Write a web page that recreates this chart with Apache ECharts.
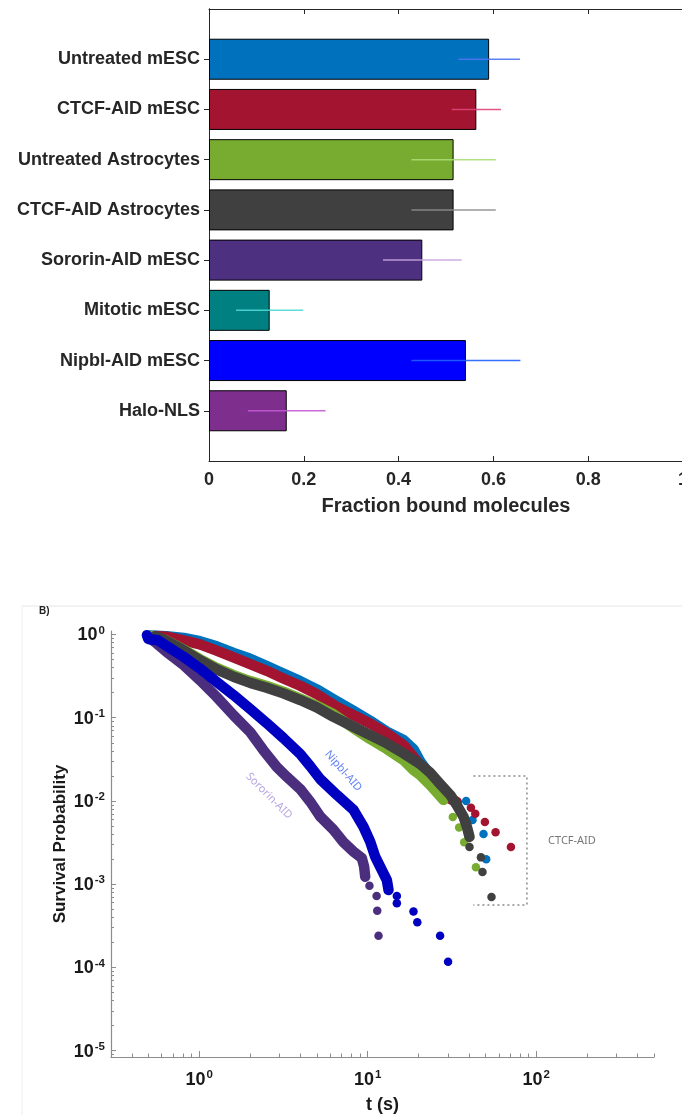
<!DOCTYPE html>
<html>
<head>
<meta charset="utf-8">
<script src="https://cdn.jsdelivr.net/npm/echarts@6/dist/echarts.min.js"></script>
<style>
  html, body { margin: 0; padding: 0; background: #ffffff; }
  #chart { width: 682px; height: 1115px; }
</style>
</head>
<body>
<div id="chart"></div>
<script>
// ---------- Panel A: fraction of bound molecules ----------
const barCategories = [
  'Untreated mESC', 'CTCF-AID mESC', 'Untreated Astrocytes', 'CTCF-AID Astrocytes',
  'Sororin-AID mESC', 'Mitotic mESC', 'Nipbl-AID mESC', 'Halo-NLS'
];
const boundFraction = [0.591, 0.564, 0.516, 0.516, 0.450, 0.128, 0.542, 0.164];
const boundError    = [0.065, 0.052, 0.089, 0.089, 0.083, 0.071, 0.115, 0.082];
const fractionTicks = [0, 0.2, 0.4, 0.6, 0.8, 1];

// ---------- Panel B: survival curves, [t (s), survival probability] ----------
const untreatedEscTrace = [
  [0.51, 0.97], [0.64, 0.95], [0.81, 0.91], [1.01, 0.83], [1.27, 0.72], [1.60, 0.60],
  [2.01, 0.51], [2.52, 0.416], [3.16, 0.340], [3.98, 0.275], [4.99, 0.219], [6.27, 0.167],
  [8.24, 0.121], [10.35, 0.092], [13.0, 0.068], [16.3, 0.054], [18.7, 0.042], [20.5, 0.030],
  [23.5, 0.0205], [26.9, 0.0143], [30.9, 0.0111]
];
const untreatedEscTail = [[38.4, 0.0100], [41.9, 0.0059], [48.7, 0.0040], [50.5, 0.0020]];

const ctcfEscTrace = [
  [0.55, 0.96], [0.64, 0.94], [0.81, 0.85], [1.01, 0.76], [1.27, 0.64], [1.60, 0.53],
  [2.01, 0.44], [2.52, 0.366], [3.16, 0.296], [3.98, 0.242], [4.99, 0.192], [6.57, 0.135],
  [8.24, 0.107], [10.35, 0.085], [13.0, 0.065], [16.3, 0.047], [20.5, 0.027], [23.5, 0.0187],
  [25.8, 0.0135], [29.5, 0.0111], [33.8, 0.0097]
];
const ctcfEscTail = [[41.0, 0.0083], [43.5, 0.0070], [49.6, 0.0056], [57.4, 0.0042], [70.8, 0.0028]];

const astroTrace = [
  [0.51, 0.967], [0.64, 0.843], [0.81, 0.657], [1.01, 0.505], [1.27, 0.397], [1.60, 0.325],
  [2.01, 0.275], [2.52, 0.240], [3.16, 0.205], [3.98, 0.170], [4.99, 0.139], [6.27, 0.110],
  [8.24, 0.075], [10.35, 0.0553], [13.0, 0.042], [16.3, 0.031], [18.7, 0.0235], [20.5, 0.0205],
  [23.5, 0.0155], [28.2, 0.0103]
];
const astroTail = [[32.0, 0.0064], [34.9, 0.0048], [37.4, 0.0032], [43.9, 0.0016]];

const ctcfAstroTrace = [
  [0.55, 0.954], [0.64, 0.838], [0.81, 0.648], [1.01, 0.491], [1.27, 0.380], [1.60, 0.310],
  [2.01, 0.262], [2.52, 0.229], [3.16, 0.196], [3.98, 0.163], [4.99, 0.133], [6.27, 0.1025],
  [8.24, 0.0778], [10.35, 0.0618], [13.0, 0.0491], [16.3, 0.0373], [20.5, 0.0277], [23.5, 0.0218],
  [26.9, 0.0160], [30.9, 0.0118], [33.8, 0.0089], [37.0, 0.0065], [38.8, 0.0049], [40.2, 0.0037]
];
const ctcfAstroTail = [[40.2, 0.0028], [47.0, 0.0021], [48.0, 0.0014], [54.3, 0.0007]];

const sororinTrace = [
  [0.51, 0.90], [0.56, 0.78], [0.64, 0.618], [0.81, 0.428], [1.01, 0.283], [1.27, 0.178],
  [1.60, 0.107], [2.01, 0.067], [2.40, 0.041], [2.89, 0.0255], [3.32, 0.0194], [3.98, 0.0139],
  [4.56, 0.0098], [5.23, 0.0065], [6.27, 0.0045], [7.18, 0.0032], [8.24, 0.00246], [9.24, 0.00205],
  [9.53, 0.00162], [9.67, 0.00123]
];
const sororinTail = [[10.25, 0.00096], [11.3, 0.00072], [11.4, 0.00048], [11.6, 0.00024]];

const nipblTrace = [
  [0.49, 0.98], [0.50, 0.88], [0.57, 0.85], [0.64, 0.73], [0.81, 0.538], [1.01, 0.391],
  [1.27, 0.270], [1.60, 0.187], [2.01, 0.127], [2.52, 0.086], [3.16, 0.057], [3.98, 0.0366],
  [4.56, 0.0262], [5.23, 0.0183], [6.57, 0.0118], [8.24, 0.0078], [9.44, 0.0049], [10.35, 0.00324],
  [11.08, 0.00214], [12.14, 0.00148], [13.0, 0.00112], [13.3, 0.00085]
];
const nipblTail = [[14.9, 0.00072], [14.9, 0.00059], [18.7, 0.00047], [19.7, 0.00035], [26.9, 0.00024], [30.0, 0.000117]];

const survivalDecades = [1e-5, 1e-4, 1e-3, 1e-2, 1e-1, 1];
const timeDecades = [1, 10, 100];

// ---------- styling ----------
const FONT = '"Liberation Sans", Arial, Helvetica, sans-serif';
const INK = '#262626';
const barColors = ['#0072bd', '#a2142f', '#77ac30', '#404040', '#4d307f', '#008080', '#0000ff', '#7e2f8e'];
const errColors = ['#4d74f5', '#e0457a', '#a8de78', '#8c8c8c', '#c9a3df', '#4fd6d6', '#1f5fff', '#c45ad6'];

// category axis padded with an empty slot at each end so the bars sit on ticks 1..8
const paddedCats = [''].concat(barCategories, ['']);
const innerTick = (idx) => idx > 0 && idx < paddedCats.length - 1;

const barData = ['-'].concat(
  boundFraction.map((v, i) => ({ value: v, itemStyle: { color: barColors[i] } })),
  ['-']
);
const errData = boundFraction.map((v, i) => [v - boundError[i], i + 1, v + boundError[i]]);

// minor tick positions for the log axes
function minorTicks(lo, hi, nFrom, nTo) {
  const out = [];
  for (let n = nFrom; n <= nTo; n++) {
    for (let k = 2; k <= 9; k++) {
      const v = k * Math.pow(10, n);
      if (v >= lo && v <= hi) out.push(v);
    }
  }
  return out;
}
const T_MIN = 0.3, T_MAX = 500, S_MIN = 8.4e-6, S_MAX = 1.1;
const timeMinor = minorTicks(T_MIN, T_MAX, -1, 2);
const survMinor = minorTicks(S_MIN, S_MAX, -6, 0);

const powLabel = (v) => `{b|10}{s|${Math.round(Math.log10(v))}}`;
const powRich = {
  b: { fontSize: 18, fontWeight: 'bold', color: '#1a1a1a', fontFamily: FONT, verticalAlign: 'bottom' },
  s: { fontSize: 11.5, fontWeight: 'bold', color: '#1a1a1a', fontFamily: FONT, verticalAlign: 'top', padding: [0, 0, 8, 1] }
};
const LOG_GREY = '#8c8c8c';

function traceSeries(name, data, color) {
  return {
    name, type: 'line', xAxisIndex: 2, yAxisIndex: 2, data,
    showSymbol: false, symbol: 'none', smooth: false, silent: true,
    lineStyle: { color, width: 10.5, cap: 'round', join: 'round' }
  };
}
function tailSeries(name, data, color) {
  return {
    name, type: 'scatter', xAxisIndex: 2, yAxisIndex: 2, data,
    symbol: 'circle', symbolSize: 8.5, silent: true,
    itemStyle: { color, opacity: 1 }
  };
}
function noteSeries(text, at, rotate, color) {
  return {
    type: 'scatter', xAxisIndex: 2, yAxisIndex: 2, data: [at],
    symbolSize: 0, silent: true,
    label: {
      show: true, position: 'inside', formatter: text, rotate,
      color, fontSize: 11, fontFamily: '"Noto Sans", "Open Sans", sans-serif'
    }
  };
}
function frameAxis(extra) {
  return Object.assign({
    axisLine: { show: true, lineStyle: { color: INK, width: 1 } },
    axisTick: { show: true, inside: true, length: 5, lineStyle: { color: INK } },
    splitLine: { show: false }
  }, extra);
}

const option = {
  backgroundColor: '#ffffff',
  animation: false,
  textStyle: { fontFamily: FONT },
  graphic: [
    { type: 'line', shape: { x1: 22, y1: 606, x2: 682, y2: 606 }, style: { stroke: '#e6e6e6', lineWidth: 1 } },
    { type: 'line', shape: { x1: 22, y1: 606, x2: 22, y2: 1115 }, style: { stroke: '#eeeeee', lineWidth: 1 } },
    { type: 'text', left: 39, top: 606, style: { text: 'B)', font: 'bold 10px ' + FONT, fill: '#222222' } }
  ],
  grid: [
    { left: 209, top: 9, width: 474, height: 452, outerBoundsMode: 'none', containLabel: false },
    { left: 111, top: 631, width: 543, height: 426, outerBoundsMode: 'none', containLabel: false }
  ],
  xAxis: [
    frameAxis({
      gridIndex: 0, type: 'value', position: 'bottom', min: 0, max: 1, interval: 0.2,
      axisLabel: {
        color: INK, fontSize: 18, fontWeight: 'bold', fontFamily: FONT, margin: 10,
        formatter: (v) => String(fractionTicks.find((t) => Math.abs(t - v) < 1e-9) ?? v)
      },
      name: 'Fraction bound molecules', nameLocation: 'middle', nameGap: 35, nameMoveOverlap: false,
      nameTextStyle: { color: INK, fontSize: 20, fontWeight: 'bold', fontFamily: FONT }
    }),
    frameAxis({
      gridIndex: 0, type: 'value', position: 'top', min: 0, max: 1, interval: 0.2,
      axisLabel: { show: false }
    }),
    {
      gridIndex: 1, type: 'log', logBase: 10, position: 'bottom', min: T_MIN, max: T_MAX,
      axisLine: { show: true, lineStyle: { color: LOG_GREY, width: 1.2 } },
      axisTick: { show: true, inside: true, length: 6, customValues: timeDecades, lineStyle: { color: LOG_GREY } },
      axisLabel: { show: true, customValues: timeDecades, formatter: powLabel, rich: powRich, margin: 12 },
      splitLine: { show: false },
      name: 't (s)', nameLocation: 'middle', nameGap: 39, nameMoveOverlap: false,
      nameTextStyle: { color: '#1a1a1a', fontSize: 18, fontWeight: 'bold', fontFamily: FONT }
    },
    {
      gridIndex: 1, type: 'log', logBase: 10, position: 'bottom', min: T_MIN, max: T_MAX,
      axisLine: { show: false },
      axisTick: { show: true, inside: true, length: 3.5, customValues: timeMinor, lineStyle: { color: LOG_GREY } },
      axisLabel: { show: false }, splitLine: { show: false }
    }
  ],
  yAxis: [
    frameAxis({
      gridIndex: 0, type: 'category', data: paddedCats, inverse: true, boundaryGap: false, position: 'left',
      axisTick: { show: true, inside: true, length: 5, interval: innerTick, lineStyle: { color: INK } },
      axisLabel: { interval: 0, color: INK, fontSize: 18, fontWeight: 'bold', fontFamily: FONT, margin: 9 }
    }),
    frameAxis({
      gridIndex: 0, type: 'category', data: paddedCats, inverse: true, boundaryGap: false, position: 'right',
      axisTick: { show: true, inside: true, length: 5, interval: innerTick, lineStyle: { color: INK } },
      axisLabel: { show: false }
    }),
    {
      gridIndex: 1, type: 'log', logBase: 10, position: 'left', min: S_MIN, max: S_MAX,
      axisLine: { show: true, lineStyle: { color: LOG_GREY, width: 1.2 } },
      axisTick: { show: true, inside: true, length: 5, customValues: survivalDecades, lineStyle: { color: LOG_GREY } },
      axisLabel: { show: true, customValues: survivalDecades, formatter: powLabel, rich: powRich, margin: 6 },
      splitLine: { show: false },
      name: 'Survival Probability', nameLocation: 'middle', nameGap: 42, nameRotate: 90, nameMoveOverlap: false,
      nameTextStyle: { color: '#1a1a1a', fontSize: 17, fontWeight: 'bold', fontFamily: FONT }
    },
    {
      gridIndex: 1, type: 'log', logBase: 10, position: 'left', min: S_MIN, max: S_MAX,
      axisLine: { show: false },
      axisTick: { show: true, inside: true, length: 3, customValues: survMinor, lineStyle: { color: LOG_GREY } },
      axisLabel: { show: false }, splitLine: { show: false }
    }
  ],
  series: [
    {
      type: 'bar', xAxisIndex: 0, yAxisIndex: 0, data: barData, barWidth: 41, silent: true, z: 2,
      itemStyle: { borderColor: '#000000', borderWidth: 1 }
    },
    {
      // horizontal error bars drawn across the bar ends
      type: 'custom', xAxisIndex: 0, yAxisIndex: 0, data: errData, silent: true, z: 5,
      encode: { x: [0, 2], y: 1 },
      renderItem: (params, api) => {
        const row = api.value(1);
        const p0 = api.coord([api.value(0), row]);
        const p1 = api.coord([api.value(2), row]);
        return {
          type: 'line',
          z2: 10,
          shape: { x1: p0[0], y1: p0[1], x2: p1[0], y2: p1[1] },
          style: { stroke: errColors[params.dataIndex], lineWidth: 1.5, opacity: 0.9 }
        };
      }
    },
    traceSeries('Untreated mESC', untreatedEscTrace, '#0072bd'),
    tailSeries('Untreated mESC', untreatedEscTail, '#0072bd'),
    traceSeries('CTCF-AID mESC', ctcfEscTrace, '#a2142f'),
    tailSeries('CTCF-AID mESC', ctcfEscTail, '#a2142f'),
    traceSeries('Untreated Astrocytes', astroTrace, '#77ac30'),
    tailSeries('Untreated Astrocytes', astroTail, '#77ac30'),
    traceSeries('CTCF-AID Astrocytes', ctcfAstroTrace, '#404040'),
    tailSeries('CTCF-AID Astrocytes', ctcfAstroTail, '#404040'),
    traceSeries('Sororin-AID', sororinTrace, '#4b2e7e'),
    tailSeries('Sororin-AID', sororinTail, '#4b2e7e'),
    traceSeries('Nipbl-AID', nipblTrace, '#0000c0'),
    tailSeries('Nipbl-AID', nipblTail, '#0000c0'),
    {
      // dotted bracket around the CTCF-AID tails
      type: 'line', xAxisIndex: 2, yAxisIndex: 2, silent: true, showSymbol: false, symbol: 'none',
      data: [[42.4, 0.0199], [88.1, 0.0199], [88.1, 5.62e-4], [42.4, 5.62e-4]],
      lineStyle: { color: '#8a8a8a', width: 1.5, type: [2, 3] }
    },
    noteSeries('CTCF-AID', [163, 0.00333], 0, '#555555'),
    noteSeries('Nipbl-AID', [7.16, 0.0229], -49, '#3a5ff0'),
    noteSeries('Sororin-AID', [2.60, 0.01145], -45, '#a58fd9')
  ]
};

const chart = echarts.init(document.getElementById('chart'), null, { renderer: 'canvas' });
chart.setOption(option);
</script>
</body>
</html>
